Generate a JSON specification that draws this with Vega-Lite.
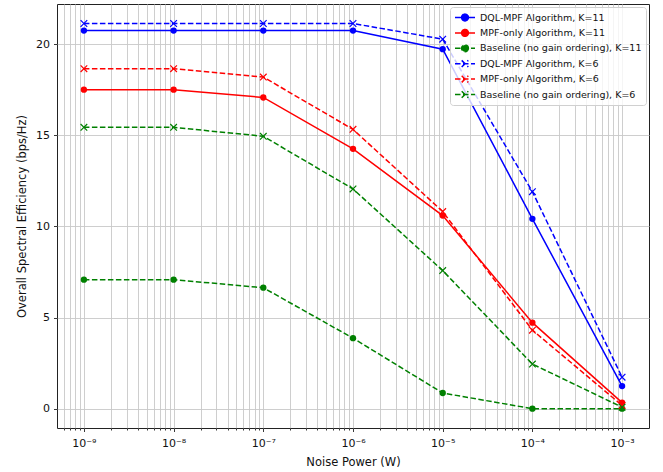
{
  "$schema": "https://vega.github.io/schema/vega-lite/v6.json",
  "width": 592,
  "height": 424,
  "autosize": {"type": "none"},
  "padding": {"left": 57, "top": 4, "right": 14, "bottom": 44},
  "background": "white",
  "config": {
    "font": "DejaVu Sans",
    "view": {"stroke": "#222222", "strokeWidth": 1},
    "axis": {
      "domain": false,
      "gridColor": "#c8c8c8",
      "gridWidth": 0.9,
      "tickColor": "#222222",
      "tickWidth": 0.9,
      "labelColor": "#111111",
      "titleColor": "#111111",
      "labelFontSize": 11,
      "titleFontSize": 11.5,
      "titleFontWeight": "normal",
      "labelFont": "DejaVu Sans",
      "titleFont": "DejaVu Sans"
    }
  },
  "data": {
    "values": [
      {"s": "DQL-MPF Algorithm, K=11", "k": 11, "n": 1e-9, "v": 20.75},
      {"s": "DQL-MPF Algorithm, K=11", "k": 11, "n": 1e-8, "v": 20.75},
      {"s": "DQL-MPF Algorithm, K=11", "k": 11, "n": 1e-7, "v": 20.75},
      {"s": "DQL-MPF Algorithm, K=11", "k": 11, "n": 1e-6, "v": 20.75},
      {"s": "DQL-MPF Algorithm, K=11", "k": 11, "n": 1e-5, "v": 19.73},
      {"s": "DQL-MPF Algorithm, K=11", "k": 11, "n": 1e-4, "v": 10.42},
      {"s": "DQL-MPF Algorithm, K=11", "k": 11, "n": 1e-3, "v": 1.24},
      {"s": "MPF-only Algorithm, K=11", "k": 11, "n": 1e-9, "v": 17.51},
      {"s": "MPF-only Algorithm, K=11", "k": 11, "n": 1e-8, "v": 17.51},
      {"s": "MPF-only Algorithm, K=11", "k": 11, "n": 1e-7, "v": 17.08},
      {"s": "MPF-only Algorithm, K=11", "k": 11, "n": 1e-6, "v": 14.26},
      {"s": "MPF-only Algorithm, K=11", "k": 11, "n": 1e-5, "v": 10.6},
      {"s": "MPF-only Algorithm, K=11", "k": 11, "n": 1e-4, "v": 4.72},
      {"s": "MPF-only Algorithm, K=11", "k": 11, "n": 1e-3, "v": 0.33},
      {"s": "Baseline (no gain ordering), K=11", "k": 11, "n": 1e-9, "v": 7.08},
      {"s": "Baseline (no gain ordering), K=11", "k": 11, "n": 1e-8, "v": 7.08},
      {"s": "Baseline (no gain ordering), K=11", "k": 11, "n": 1e-7, "v": 6.64},
      {"s": "Baseline (no gain ordering), K=11", "k": 11, "n": 1e-6, "v": 3.87},
      {"s": "Baseline (no gain ordering), K=11", "k": 11, "n": 1e-5, "v": 0.86},
      {"s": "Baseline (no gain ordering), K=11", "k": 11, "n": 1e-4, "v": 0.0},
      {"s": "Baseline (no gain ordering), K=11", "k": 11, "n": 1e-3, "v": 0.0},
      {"s": "DQL-MPF Algorithm, K=6", "k": 6, "n": 1e-9, "v": 21.14},
      {"s": "DQL-MPF Algorithm, K=6", "k": 6, "n": 1e-8, "v": 21.14},
      {"s": "DQL-MPF Algorithm, K=6", "k": 6, "n": 1e-7, "v": 21.14},
      {"s": "DQL-MPF Algorithm, K=6", "k": 6, "n": 1e-6, "v": 21.14},
      {"s": "DQL-MPF Algorithm, K=6", "k": 6, "n": 1e-5, "v": 20.28},
      {"s": "DQL-MPF Algorithm, K=6", "k": 6, "n": 1e-4, "v": 11.91},
      {"s": "DQL-MPF Algorithm, K=6", "k": 6, "n": 1e-3, "v": 1.73},
      {"s": "MPF-only Algorithm, K=6", "k": 6, "n": 1e-9, "v": 18.66},
      {"s": "MPF-only Algorithm, K=6", "k": 6, "n": 1e-8, "v": 18.66},
      {"s": "MPF-only Algorithm, K=6", "k": 6, "n": 1e-7, "v": 18.2},
      {"s": "MPF-only Algorithm, K=6", "k": 6, "n": 1e-6, "v": 15.33},
      {"s": "MPF-only Algorithm, K=6", "k": 6, "n": 1e-5, "v": 10.82},
      {"s": "MPF-only Algorithm, K=6", "k": 6, "n": 1e-4, "v": 4.31},
      {"s": "MPF-only Algorithm, K=6", "k": 6, "n": 1e-3, "v": 0.18},
      {"s": "Baseline (no gain ordering), K=6", "k": 6, "n": 1e-9, "v": 15.44},
      {"s": "Baseline (no gain ordering), K=6", "k": 6, "n": 1e-8, "v": 15.44},
      {"s": "Baseline (no gain ordering), K=6", "k": 6, "n": 1e-7, "v": 14.95},
      {"s": "Baseline (no gain ordering), K=6", "k": 6, "n": 1e-6, "v": 12.06},
      {"s": "Baseline (no gain ordering), K=6", "k": 6, "n": 1e-5, "v": 7.58},
      {"s": "Baseline (no gain ordering), K=6", "k": 6, "n": 1e-4, "v": 2.45},
      {"s": "Baseline (no gain ordering), K=6", "k": 6, "n": 1e-3, "v": 0.08}
    ]
  },
  "encoding": {
    "x": {
      "field": "n",
      "type": "quantitative",
      "title": "Noise Power (W)",
      "scale": {"type": "log", "domain": [5.0119e-10, 1.99526e-3], "nice": false},
      "axis": {
        "values": [6e-10, 7e-10, 8e-10, 9e-10,
          1e-9, 2e-9, 3e-9, 4e-9, 5e-9, 6e-9, 7e-9, 8e-9, 9e-9,
          1e-8, 2e-8, 3e-8, 4e-8, 5e-8, 6e-8, 7e-8, 8e-8, 9e-8,
          1e-7, 2e-7, 3e-7, 4e-7, 5e-7, 6e-7, 7e-7, 8e-7, 9e-7,
          1e-6, 2e-6, 3e-6, 4e-6, 5e-6, 6e-6, 7e-6, 8e-6, 9e-6,
          1e-5, 2e-5, 3e-5, 4e-5, 5e-5, 6e-5, 7e-5, 8e-5, 9e-5,
          1e-4, 2e-4, 3e-4, 4e-4, 5e-4, 6e-4, 7e-4, 8e-4, 9e-4,
          1e-3],
        "labelExpr": "abs(log(datum.value)/LN10 - round(log(datum.value)/LN10)) < 0.01 ? '10⁻' + substring('⁰¹²³⁴⁵⁶⁷⁸⁹', abs(round(log(datum.value)/LN10)), abs(round(log(datum.value)/LN10)) + 1) : ''",
        "tickSize": {"condition": {"test": "abs(log(datum.value)/LN10 - round(log(datum.value)/LN10)) < 0.01", "value": 3.5}, "value": 2},
        "labelOverlap": false,
        "labelBound": false,
        "labelFlush": false,
        "labelPadding": 6,
        "titlePadding": 8,
        "grid": true
      }
    },
    "y": {
      "field": "v",
      "type": "quantitative",
      "title": "Overall Spectral Efficiency (bps/Hz)",
      "scale": {"domain": [-1.06, 22.21], "nice": false, "zero": false},
      "axis": {
        "values": [0, 5, 10, 15, 20],
        "tickSize": 3.5,
        "labelPadding": 4,
        "titlePadding": 8,
        "grid": true
      }
    }
  },
  "layer": [
    {
      "transform": [{"filter": "datum.s == 'DQL-MPF Algorithm, K=11' || datum.s == 'MPF-only Algorithm, K=11'"}],
      "mark": {"type": "line", "strokeWidth": 1.5},
      "encoding": {
        "color": {
          "field": "s", "type": "nominal", "legend": null,
          "scale": {
            "domain": ["Baseline (no gain ordering), K=6", "MPF-only Algorithm, K=6", "DQL-MPF Algorithm, K=6", "Baseline (no gain ordering), K=11", "MPF-only Algorithm, K=11", "DQL-MPF Algorithm, K=11"],
            "range": ["#008000", "#ff0000", "#0000ff", "#008000", "#ff0000", "#0000ff"]
          }
        }
      }
    },
    {
      "transform": [{"filter": "datum.s != 'DQL-MPF Algorithm, K=11' && datum.s != 'MPF-only Algorithm, K=11'"}],
      "mark": {"type": "line", "strokeWidth": 1.5, "strokeDash": [5.5, 2.5]},
      "encoding": {
        "color": {
          "field": "s", "type": "nominal", "legend": null,
          "scale": {
            "domain": ["Baseline (no gain ordering), K=6", "MPF-only Algorithm, K=6", "DQL-MPF Algorithm, K=6", "Baseline (no gain ordering), K=11", "MPF-only Algorithm, K=11", "DQL-MPF Algorithm, K=11"],
            "range": ["#008000", "#ff0000", "#0000ff", "#008000", "#ff0000", "#0000ff"]
          }
        }
      }
    },
    {
      "transform": [{"filter": "datum.k == 11"}],
      "mark": {"type": "point", "shape": "circle", "filled": true, "size": 40, "opacity": 1},
      "encoding": {
        "color": {
          "field": "s", "type": "nominal", "legend": null,
          "scale": {
            "domain": ["Baseline (no gain ordering), K=6", "MPF-only Algorithm, K=6", "DQL-MPF Algorithm, K=6", "Baseline (no gain ordering), K=11", "MPF-only Algorithm, K=11", "DQL-MPF Algorithm, K=11"],
            "range": ["#008000", "#ff0000", "#0000ff", "#008000", "#ff0000", "#0000ff"]
          }
        }
      }
    },
    {
      "transform": [{"filter": "datum.k == 6"}],
      "mark": {"type": "point", "shape": "M-1,-1L1,1M-1,1L1,-1", "filled": false, "size": 44, "strokeWidth": 1.2, "opacity": 1},
      "encoding": {
        "color": {
          "field": "s", "type": "nominal", "legend": null,
          "scale": {
            "domain": ["Baseline (no gain ordering), K=6", "MPF-only Algorithm, K=6", "DQL-MPF Algorithm, K=6", "Baseline (no gain ordering), K=11", "MPF-only Algorithm, K=11", "DQL-MPF Algorithm, K=11"],
            "range": ["#008000", "#ff0000", "#0000ff", "#008000", "#ff0000", "#0000ff"]
          }
        }
      }
    },
    {
      "transform": [{"filter": "datum.k == 0"}],
      "mark": {"type": "point", "filled": true, "opacity": 1, "strokeWidth": 1.5},
      "encoding": {
        "fill": {
          "field": "s", "type": "nominal",
          "scale": {
            "domain": ["DQL-MPF Algorithm, K=11", "MPF-only Algorithm, K=11", "Baseline (no gain ordering), K=11", "DQL-MPF Algorithm, K=6", "MPF-only Algorithm, K=6", "Baseline (no gain ordering), K=6"],
            "range": ["#0000ff", "#ff0000", "#008000", "#0000ff", "#ff0000", "#008000"]
          },
          "legend": {
            "title": null,
            "orient": "top-right",
            "offset": 3,
            "symbolSize": 400,
            "clipHeight": 13,
            "rowPadding": 2.4,
            "padding": 4,
            "labelOffset": 4,
            "labelFontSize": 9.5,
            "labelFont": "DejaVu Sans",
            "labelColor": "#111111",
            "labelLimit": 0,
            "symbolOpacity": 1,
            "symbolStrokeWidth": 1.5,
            "fillColor": "rgba(255,255,255,0.8)",
            "strokeColor": "#d0d0d0",
            "cornerRadius": 3
          }
        },
        "stroke": {
          "field": "s", "type": "nominal",
          "scale": {
            "domain": ["DQL-MPF Algorithm, K=11", "MPF-only Algorithm, K=11", "Baseline (no gain ordering), K=11", "DQL-MPF Algorithm, K=6", "MPF-only Algorithm, K=6", "Baseline (no gain ordering), K=6"],
            "range": ["#0000ff", "#ff0000", "#008000", "#0000ff", "#ff0000", "#008000"]
          }
        },
        "strokeDash": {
          "field": "s", "type": "nominal",
          "scale": {
            "domain": ["DQL-MPF Algorithm, K=11", "MPF-only Algorithm, K=11", "Baseline (no gain ordering), K=11", "DQL-MPF Algorithm, K=6", "MPF-only Algorithm, K=6", "Baseline (no gain ordering), K=6"],
            "range": [[1, 0], [1, 0], [5.5, 2.5], [5.5, 2.5], [5.5, 2.5], [5.5, 2.5]]
          }
        },
        "shape": {
          "field": "s", "type": "nominal",
          "scale": {
            "domain": ["DQL-MPF Algorithm, K=11", "MPF-only Algorithm, K=11", "Baseline (no gain ordering), K=11", "DQL-MPF Algorithm, K=6", "MPF-only Algorithm, K=6", "Baseline (no gain ordering), K=6"],
            "range": [
              "M-1,0H1M0.34,0A0.34,0.34,0,1,1,-0.34,0A0.34,0.34,0,1,1,0.34,0Z",
              "M-1,0H1M0.34,0A0.34,0.34,0,1,1,-0.34,0A0.34,0.34,0,1,1,0.34,0Z",
              "M-1,0H1M0.34,0A0.34,0.34,0,1,1,-0.34,0A0.34,0.34,0,1,1,0.34,0Z",
              "M-1,0H1M-0.33,-0.33L0.33,0.33M-0.33,0.33L0.33,-0.33",
              "M-1,0H1M-0.33,-0.33L0.33,0.33M-0.33,0.33L0.33,-0.33",
              "M-1,0H1M-0.33,-0.33L0.33,0.33M-0.33,0.33L0.33,-0.33"
            ]
          }
        }
      }
    }
  ]
}
